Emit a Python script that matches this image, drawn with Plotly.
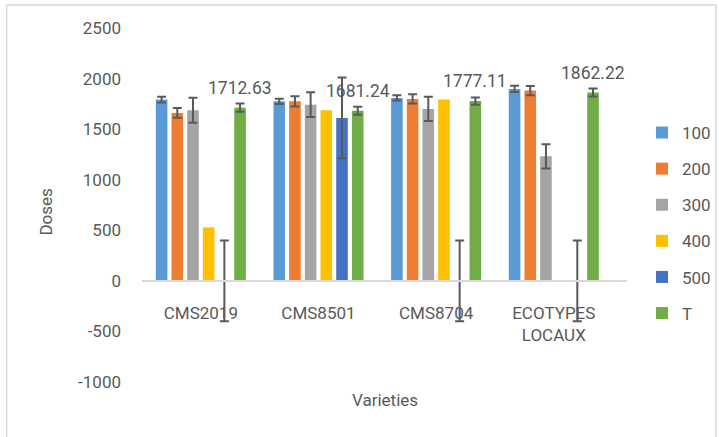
import plotly.graph_objects as go

categories = ["CMS2019", "CMS8501", "CMS8704", "ECOTYPES<br>LOCAUX"]
series_names = ["100", "200", "300", "400", "500", "T"]
colors = ["#5B9BD5", "#ED7D31", "#A5A5A5", "#FFC000", "#4472C4", "#70AD47"]

v100 = [1792, 1775, 1809, 1898]
v200 = [1660, 1775, 1799, 1881]
v300 = [1686, 1742, 1700, 1231]
v400 = [528, 1686, 1792, 0]
v500 = [0, 1611, 0, 0]
vT = [1712.63, 1681.24, 1777.11, 1862.22]

e100 = [28, 26, 27, 30]
e200 = [48, 50, 46, 46]
e300 = [124, 122, 120, 119]
e400 = None  # no error bars shown for dose 400
e500 = [400, 400, 400, 400]
eT = [40, 40, 36, 40]

y_tickvals = [-1000, -500, 0, 500, 1000, 1500, 2000, 2500]
y_ticktext = ["-1000", "-500", "0", "500", "1000", "1500", "2000", "2500"]

values = [v100, v200, v300, v400, v500, vT]
errors = [e100, e200, e300, e400, e500, eT]

FONT = "Liberation Sans Narrow, Arial Narrow, Roboto, sans-serif"
TXT = "#595959"
FS = 17

fig = go.Figure()
for name, col, vals, errs in zip(series_names, colors, values, errors):
    fig.add_trace(go.Bar(
        name=name, x=categories, y=vals, marker_color=col,
        marker_line=dict(width=0),
        legendgroup=name,
        error_y=dict(type="data", array=errs if errs else [0] * len(vals),
                     visible=errs is not None, color="#595959",
                     thickness=2, width=4.5),
    ))

# data labels on T series
bargap = 0.2
n = len(series_names)
slot = (1 - bargap) / n
t_off = -(1 - bargap) / 2 + slot * (n - 0.5)
for i, v in enumerate(vT):
    fig.add_annotation(x=i + t_off, y=v, xref="x", yref="y", text=f"{v:.2f}",
                       showarrow=False, yshift=20, yanchor="middle", xanchor="center",
                       font=dict(family=FONT, size=17.5, color=TXT))

L, R, T_, B = 141.5, 627, 28, 382
W, H = 719, 437
pw, ph = R - L, B - T_

def px(xp):
    return (xp - L) / pw

def py(yp):
    return (B - yp) / ph

fig.add_annotation(x=px(45), y=py(212), xref="paper", yref="paper", text="Doses",
                   textangle=-90, showarrow=False, xanchor="center", yanchor="middle",
                   font=dict(family=FONT, size=FS, color=TXT))
fig.add_annotation(x=px(385), y=py(400), xref="paper", yref="paper", text="Varieties",
                   showarrow=False, xanchor="center", yanchor="middle",
                   font=dict(family=FONT, size=FS, color=TXT))

fig.add_shape(type="rect", xref="paper", yref="paper",
              x0=px(6), x1=px(716), y0=py(445), y1=py(5),
              line=dict(color="#D9D9D9", width=1.5), fillcolor="rgba(0,0,0,0)", layer="below")

fig.update_layout(
    width=W, height=H,
    margin=dict(l=L, r=W - R, t=T_, b=H - B, autoexpand=False),
    barmode="group", bargap=bargap, bargroupgap=0.26,
    plot_bgcolor="white", paper_bgcolor="white",
    font=dict(family=FONT, size=FS, color=TXT),
    showlegend=True,
    legend=dict(x=px(642), y=py(223), xanchor="left", yanchor="middle",
                traceorder="grouped", tracegroupgap=11,
                font=dict(family=FONT, size=FS, color=TXT),
                bgcolor="rgba(0,0,0,0)"),
    xaxis=dict(anchor="free", position=1000 / 3500, showline=True, automargin=False,
               linecolor="#D9D9D9", linewidth=2, ticks="", showgrid=False,
               ticklabelstandoff=17, tickfont=dict(family=FONT, size=FS, color=TXT)),
    yaxis=dict(range=[-1000, 2500], tickvals=y_tickvals, ticktext=y_ticktext,
               showgrid=False, zeroline=False, automargin=False,
               showline=False, ticks="", ticklabelstandoff=20,
               tickfont=dict(family=FONT, size=FS, color=TXT)),
)

fig.write_html("out.html", config={"displayModeBar": False},
               post_script="document.body.style.margin='0';document.body.style.overflow='hidden';")
